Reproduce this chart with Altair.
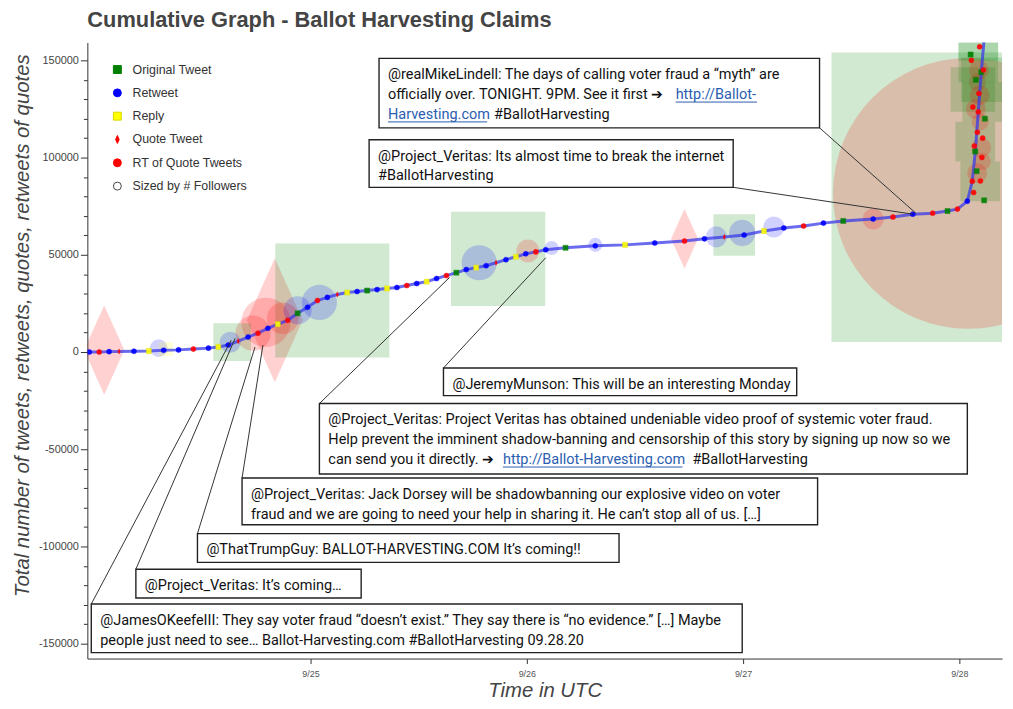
import altair as alt
import pandas as pd

# ---------------- data ----------------
type_names = ["Original Tweet", "Retweet", "Reply", "Quote Tweet", "RT of Quote Tweets", "Sized by # Followers"]
type_codes = {"O": "Original Tweet", "R": "Retweet", "P": "Reply", "Q": "Quote Tweet", "T": "RT of Quote Tweets"}
type_fill = ["#008000", "#0000ff", "#ffff00", "#ff0000", "#ff0000", "#ffffff"]
type_stroke = ["#008000", "#0000ff", "#d8d800", "#ff0000", "#ff0000", "#444444"]
DIAMOND = "M0,-1L0.45,0L0,1L-0.45,0Z"
type_shape = ["square", "circle", "square", DIAMOND, "circle", "circle"]

# cumulative curve (time UTC, running total)
curve_time = [
    "2020-09-23T23:27", "2020-09-24T00:33", "2020-09-24T01:39", "2020-09-24T02:45", "2020-09-24T04:24",
    "2020-09-24T06:03", "2020-09-24T07:42", "2020-09-24T09:21", "2020-09-24T11:00", "2020-09-24T12:40",
    "2020-09-24T13:46", "2020-09-24T14:52", "2020-09-24T15:58", "2020-09-24T17:04", "2020-09-24T18:10",
    "2020-09-24T19:16", "2020-09-24T20:22", "2020-09-24T21:28", "2020-09-24T22:34", "2020-09-24T23:40",
    "2020-09-25T00:46", "2020-09-25T01:52", "2020-09-25T02:58", "2020-09-25T04:04", "2020-09-25T05:10",
    "2020-09-25T06:17", "2020-09-25T07:23", "2020-09-25T08:29", "2020-09-25T09:35", "2020-09-25T10:41",
    "2020-09-25T11:47", "2020-09-25T12:53", "2020-09-25T13:59", "2020-09-25T15:05", "2020-09-25T16:11",
    "2020-09-25T17:17", "2020-09-25T18:23", "2020-09-25T19:29", "2020-09-25T20:35", "2020-09-25T21:41",
    "2020-09-25T22:47", "2020-09-25T23:53", "2020-09-26T01:00", "2020-09-26T02:06", "2020-09-26T04:18",
    "2020-09-26T07:36", "2020-09-26T10:54", "2020-09-26T14:12", "2020-09-26T17:30", "2020-09-26T19:43",
    "2020-09-26T21:55", "2020-09-27T00:07", "2020-09-27T02:19", "2020-09-27T04:31", "2020-09-27T06:43",
    "2020-09-27T08:55", "2020-09-27T11:07", "2020-09-27T14:26", "2020-09-27T16:38", "2020-09-27T18:50",
    "2020-09-27T21:02", "2020-09-27T22:41", "2020-09-27T23:47", "2020-09-28T00:53", "2020-09-28T01:26",
    "2020-09-28T01:46", "2020-09-28T02:06", "2020-09-28T02:26", "2020-09-28T02:46",
]
curve_count = [
    0, 0, 200, 300, 400,
    500, 900, 1100, 1500, 2000,
    2600, 3600, 5600, 7700, 9700,
    12200, 14300, 16300, 19900, 23000,
    26500, 28100, 29600, 30600, 31100,
    31600, 32100, 32700, 33200, 34200,
    35200, 36200, 37800, 39300, 40800,
    42400, 43400, 44400, 45900, 47500,
    49000, 50500, 51500, 52600, 53600,
    54600, 55100, 56100, 57100, 58200,
    59200, 60200, 62200, 63800, 64800,
    66300, 67400, 68400, 69400, 70900,
    71400, 72500, 73500, 77600, 87800,
    103100, 123500, 143900, 162000,
]
curve_type = list("RTRQR" "PRRTR" "PRQRT" "RPTOR" "TRQPR" "ORPRT" "RPRTO" "RPRQR"
                  "PRTRO" "RPRTR" "QRPRT" "RORTR" "TOTRT" "OTOT")

# burst of activity on 9/28
surge_time = ["2020-09-28T01:20", "2020-09-28T02:40", "2020-09-28T01:50", "2020-09-28T02:10",
              "2020-09-28T01:30", "2020-09-28T02:50", "2020-09-28T02:00", "2020-09-28T01:40",
              "2020-09-28T02:30", "2020-09-28T01:55", "2020-09-28T02:20", "2020-09-28T01:35",
              "2020-09-28T02:45", "2020-09-28T01:15", "2020-09-28T02:15", "2020-09-28T02:35"]
surge_count = [150000, 145000, 140000, 133000, 126000, 120000, 113000, 106000,
               100000, 93000, 88000, 82000, 78000, 153000, 157000, 110000]
surge_type = list("TTOTTOTTTOTTOOTT")

# large tweets, sized by number of followers
bg_time = [
    "2020-09-28T01:53", "2020-09-28T01:00", "2020-09-24T20:02", "2020-09-25T02:25", "2020-09-25T20:49",
    "2020-09-24T01:06", "2020-09-26T17:30", "2020-09-24T19:03", "2020-09-24T17:37", "2020-09-24T20:55",
    "2020-09-24T15:18", "2020-09-24T15:05", "2020-09-24T07:09", "2020-09-24T07:56", "2020-09-24T22:34",
    "2020-09-25T00:59", "2020-09-25T18:43", "2020-09-26T00:07", "2020-09-26T02:45", "2020-09-26T07:36",
    "2020-09-26T23:01", "2020-09-26T21:02", "2020-09-26T23:54", "2020-09-27T03:25", "2020-09-27T14:26",
    "2020-09-28T02:06", "2020-09-28T02:32", "2020-09-28T01:46", "2020-09-28T02:19", "2020-09-28T02:06",
    "2020-09-28T02:19", "2020-09-28T02:00", "2020-09-28T02:32", "2020-09-28T02:40", "2020-09-28T01:30",
    "2020-09-28T02:10", "2020-09-28T01:50", "2020-09-28T02:25", "2020-09-28T01:58", "2020-09-28T02:15",
]
bg_count = [
    79600, 81600, 16300, 26500, 47960,
    1000, 58200, 15300, 9700, 17350,
    5100, 5000, 2000, 1500, 21400,
    25500, 45900, 52000, 53500, 55100,
    60200, 59200, 61200, 64300, 68400,
    149000, 128600, 108200, 87800, 160000,
    118400, 138800, 98000, 140000, 135000,
    145000, 125000, 105000, 92000, 132000,
]
bg_type = list("OTQOO" "QQTTT" "ORRPR" "RRTRR" "ORRRT" "OOOOO" "TTTOO" "TTTTT")
bg_followers = [
    852640, 745060, 156250, 132250, 90250,
    81000, 36000, 24630, 12570, 10180,
    14440, 4520, 3140, 1960, 8040,
    12570, 12570, 5310, 2010, 2010,
    17640, 4520, 7070, 4520, 4520,
    16000, 16000, 16000, 16000, 16000,
    3000, 3000, 3000, 20000, 20000,
    4000, 4000, 4000, 4000, 4000,
]

# annotated tweets
ann_text = [
    ["@realMikeLindell: The days of calling voter fraud a “myth” are",
     "officially over. TONIGHT. 9PM. See it first ➔", ""],
    ["@Project_Veritas: Its almost time to break the internet", "#BallotHarvesting"],
    ["@JeremyMunson: This will be an interesting Monday"],
    ["@Project_Veritas: Project Veritas has obtained undeniable video proof of systemic voter fraud.",
     "Help prevent the imminent shadow-banning and censorship of this story by signing up now so we",
     "can send you it directly. ➔"],
    ["@Project_Veritas: Jack Dorsey will be shadowbanning our explosive video on voter",
     "fraud and we are going to need your help in sharing it. He can’t stop all of us. […]"],
    ["@ThatTrumpGuy: BALLOT-HARVESTING.COM It’s coming!!"],
    ["@Project_Veritas: It’s coming…"],
    ["@JamesOKeefeIII: They say voter fraud “doesn’t exist.” They say there is “no evidence.” […] Maybe",
     "people just need to see… Ballot-Harvesting.com #BallotHarvesting 09.28.20"],
]
ann_left = ["2020-09-25T07:36", "2020-09-25T06:30", "2020-09-25T14:45", "2020-09-25T00:59",
            "2020-09-24T16:24", "2020-09-24T11:27", "2020-09-24T04:37", "2020-09-23T23:40"]
ann_right = ["2020-09-27T08:29", "2020-09-26T22:54", "2020-09-27T05:57", "2020-09-28T00:53",
             "2020-09-27T08:16", "2020-09-26T10:14", "2020-09-25T05:37", "2020-09-26T23:54"]
ann_top = [151000, 109200, -8200, -26500, -64800, -93400, -111700, -129600]
ann_bottom = [115300, 84700, -22450, -62750, -88800, -108200, -126500, -154600]
ann_tweet_time = ["2020-09-27T19:10", "2020-09-27T18:50", "2020-09-26T02:06", "2020-09-25T15:25",
                  "2020-09-24T18:43", "2020-09-24T17:50", "2020-09-24T15:38", "2020-09-24T15:12"]
ann_tweet_count = [71400, 70900, 48500, 38300, 3600, 2550, 7100, 6100]
ann_corner = ["br", "br", "tl", "tl", "tl", "tl", "tl", "tl"]

# coloured pieces of the annotation texts: (box, line, text, colour, x offset in box, underline width)
seg_box = [0, 0, 0, 3, 3]
seg_line = [1, 2, 2, 2, 2]
seg_text = ["http://Ballot-", "Harvesting.com", "#BallotHarvesting", "http://Ballot-Harvesting.com", "#BallotHarvesting"]
seg_color = ["#2a5db0", "#2a5db0", "#111111", "#2a5db0", "#111111"]
seg_dx = [299, 9, 116, 185, 376]
seg_uw = [82, 100, 0, 181, 0]

# ---------------- frames ----------------
Z = lambda lst: [s + ":00Z" for s in lst]
curve_df = pd.DataFrame({"time": Z(curve_time), "count": curve_count,
                         "type": [type_codes[c] for c in curve_type]})
surge_df = pd.DataFrame({"time": Z(surge_time), "count": surge_count,
                         "type": [type_codes[c] for c in surge_type]})
pts_df = pd.concat([curve_df, surge_df], ignore_index=True)
bg_df = pd.DataFrame({"time": Z(bg_time), "count": bg_count,
                      "type": [type_codes[c] for c in bg_type], "followers": bg_followers})
ann_df = pd.DataFrame({
    "left": Z(ann_left), "right": Z(ann_right), "top": ann_top, "bottom": ann_bottom,
    "tt": Z(ann_tweet_time), "tc": ann_tweet_count,
    "text": ["\n".join(t) for t in ann_text],
})
ann_df["ft"] = [r if c == "br" else l for l, r, c in zip(ann_df["left"], ann_df["right"], ann_corner)]
ann_df["fc"] = [b if c == "br" else t for t, b, c in zip(ann_top, ann_bottom, ann_corner)]

FONT = "Liberation Sans"
TFONT = "Roboto"
TSIZE = 14.6
LH = 20
DY0 = 9

xs = alt.Scale(type="utc", nice=False, domain=[
    alt.DateTime(year=2020, month=9, date=23, hours=23, minutes=14, utc=True),
    alt.DateTime(year=2020, month=9, date=28, hours=4, minutes=44, utc=True)])
ys = alt.Scale(domain=[-157650, 159180], nice=False, zero=False)

x_axis = alt.Axis(
    values=[alt.DateTime(year=2020, month=9, date=d, utc=True) for d in (25, 26, 27, 28)],
    format="%-m/%d", labelFontSize=9, labelColor="#555", labelFont=FONT, tickSize=5,
    labelPadding=6, title="Time in UTC", titleFontSize=20.5, titleFontStyle="italic",
    titleFontWeight="normal", titleFont=FONT, titleColor="#444", titleY=38,
    titleBaseline="alphabetic", domainColor="#333", tickColor="#333", grid=False)
y_axis = alt.Axis(
    values=list(range(-150000, 150001, 10000)),
    labelExpr="datum.value % 50000 === 0 ? '' + datum.value : ''",
    tickSize={"condition": {"test": "datum.value % 50000 === 0", "value": 7}, "value": 4},
    labelFontSize=11, labelColor="#444", labelFont=FONT, labelPadding=2,
    title="Total number of tweets, retweets, quotes, retweets of quotes",
    titleFontSize=20.5, titleFontStyle="italic", titleFontWeight="normal", titleFont=FONT,
    titleColor="#444", titleX=-55, titleY=285, titleBaseline="bottom", titleAlign="center",
    titleAngle=270, domainColor="#333", tickColor="#333", grid=False)

X = alt.X("time:T", scale=xs, axis=x_axis)
Y = alt.Y("count:Q", scale=ys, axis=y_axis)

fill_scale = alt.Scale(domain=type_names, range=type_fill)
stroke_scale = alt.Scale(domain=type_names, range=type_stroke)
shape_scale = alt.Scale(domain=type_names, range=type_shape)
size_scale = alt.Scale(domain=[0, 1000000], range=[0, 100000])

legend = alt.Legend(title=None, orient="none", legendX=24, legendY=21, symbolSize=64,
                    labelFontSize=12.5, labelFont=FONT, labelColor="#333", rowPadding=10.5,
                    labelOffset=9, padding=0, symbolStrokeWidth=1, symbolOpacity=1)

bg = alt.Chart(bg_df).mark_point(filled=True, opacity=0.18, strokeWidth=0, clip=True).encode(
    x=X, y=Y,
    fill=alt.Fill("type:N", scale=fill_scale, legend=legend),
    shape=alt.Shape("type:N", scale=shape_scale, legend=legend),
    size=alt.Size("followers:Q", scale=size_scale, legend=None),
)

line = alt.Chart(curve_df).mark_line(color="#3a3ae8", strokeWidth=3, opacity=0.75, clip=True).encode(
    x=X, y=Y)

pts = alt.Chart(pts_df).mark_point(filled=True, size=26, opacity=0.9, strokeWidth=0.5, clip=True).encode(
    x=X, y=Y,
    fill=alt.Fill("type:N", scale=fill_scale, legend=legend),
    stroke=alt.Stroke("type:N", scale=stroke_scale, legend=legend),
    shape=alt.Shape("type:N", scale=shape_scale, legend=legend),
)

leaders = alt.Chart(ann_df).mark_rule(color="#333", strokeWidth=1).encode(
    x=alt.X("ft:T", scale=xs, axis=x_axis), y=alt.Y("fc:Q", scale=ys, axis=y_axis),
    x2="tt:T", y2="tc:Q")

boxes = alt.Chart(ann_df).mark_rect(fill="white", stroke="#222", strokeWidth=1.4).encode(
    x=alt.X("left:T", scale=xs, axis=x_axis), x2="right:T",
    y=alt.Y("top:Q", scale=ys, axis=y_axis), y2="bottom:Q")

texts = alt.Chart(ann_df).mark_text(align="left", baseline="top", dx=9, dy=DY0, lineBreak="\n",
                                    lineHeight=LH, font=TFONT, fontSize=TSIZE, color="#111").encode(
    x=alt.X("left:T", scale=xs, axis=x_axis), y=alt.Y("top:Q", scale=ys, axis=y_axis), text="text:N")

layers = [bg, line, pts, leaders, boxes, texts]
for b, ln, t, c, dx, uw in zip(seg_box, seg_line, seg_text, seg_color, seg_dx, seg_uw):
    row = pd.DataFrame({"left": [Z(ann_left)[b]], "top": [ann_top[b]], "text": [t]})
    layers.append(alt.Chart(row).mark_text(align="left", baseline="top", dx=dx, dy=DY0 + ln * LH,
                                           font=TFONT, fontSize=TSIZE, color=c).encode(
        x=alt.X("left:T", scale=xs, axis=x_axis), y=alt.Y("top:Q", scale=ys, axis=y_axis), text="text:N"))
    if uw:
        layers.append(alt.Chart(row).mark_rule(color=c, strokeWidth=1, xOffset=dx,
                                               x2Offset=dx + uw, yOffset=DY0 + ln * LH + 15).encode(
            x=alt.X("left:T", scale=xs, axis=x_axis), x2="left:T",
            y=alt.Y("top:Q", scale=ys, axis=y_axis)))

chart = alt.layer(*layers).properties(
    width=922, height=621,
    padding={"left": 80, "top": 32, "right": 3, "bottom": 40},
    autosize=alt.AutoSizeParams(type="none"),
    title=alt.TitleParams("Cumulative Graph - Ballot Harvesting Claims", anchor="start", frame="group",
                          fontSize=22, font=FONT, fontWeight="bold", color="#444", offset=11),
).configure_view(stroke=None)

chart.save("out.html", embed_options={"renderer": "svg", "actions": False})
